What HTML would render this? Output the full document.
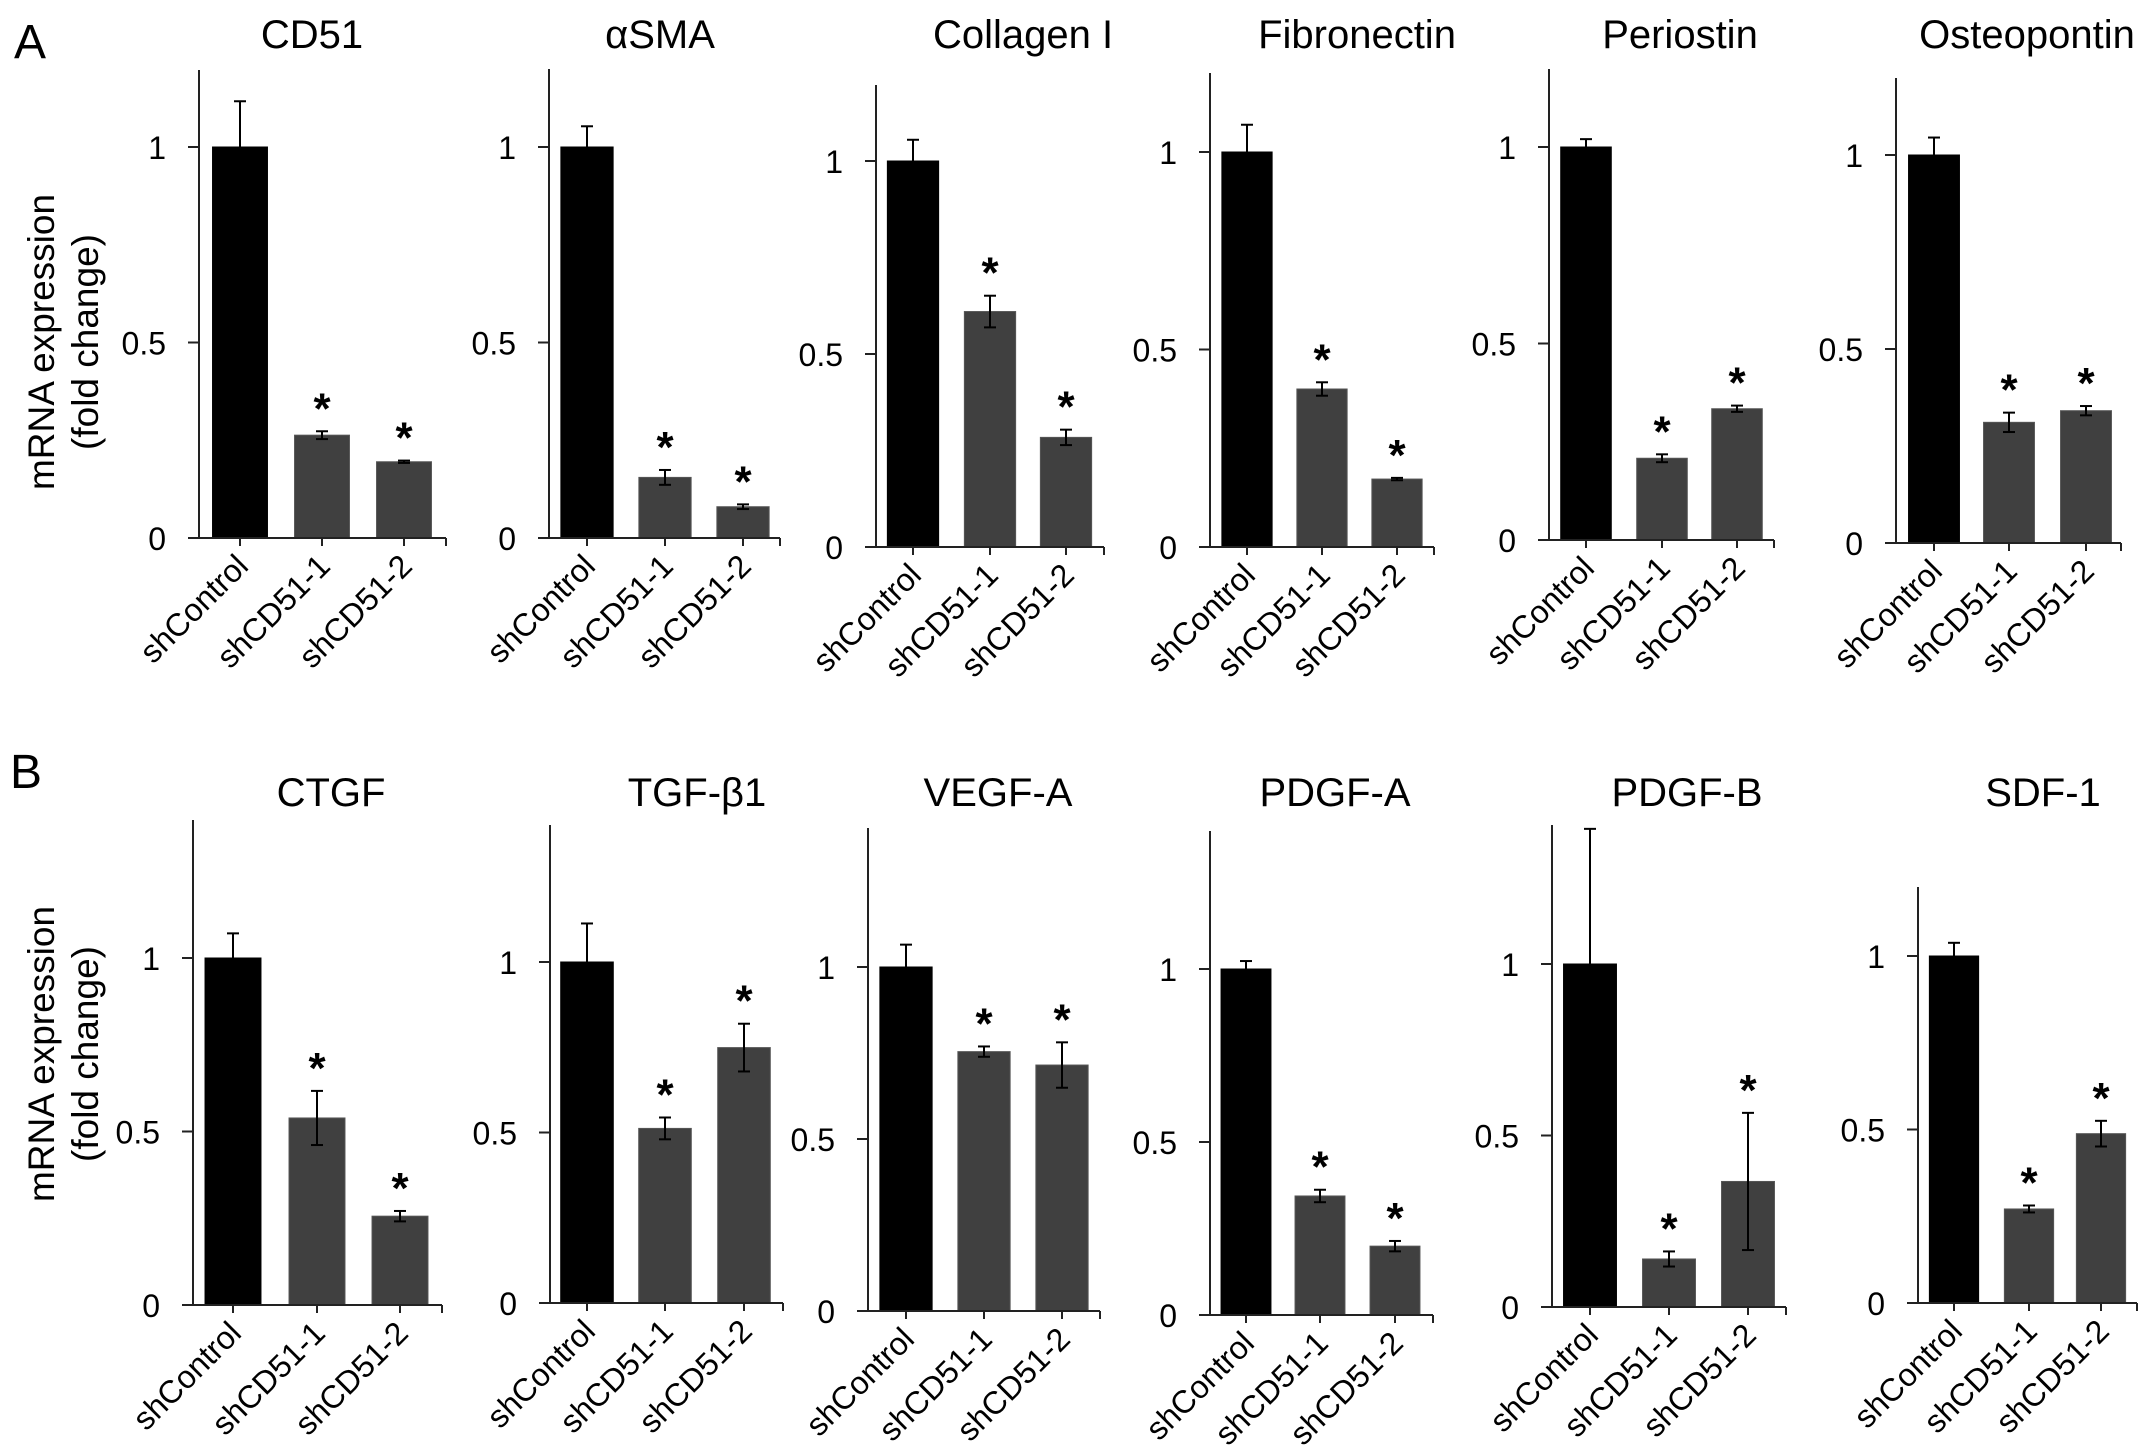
<!DOCTYPE html>
<html>
<head>
<meta charset="utf-8">
<style>
  html,body{margin:0;padding:0;background:#fff;}
  svg{display:block;font-family:"Liberation Sans",Arial,sans-serif;}
</style>
</head>
<body>
<svg id="fig" width="2150" height="1452" viewBox="0 0 2150 1452" xmlns="http://www.w3.org/2000/svg">
  <rect x="0" y="0" width="2150" height="1452" fill="#fff"/>
  <text x="14" y="58" font-size="48" fill="#000">A</text>
  <text x="10" y="788" font-size="48" fill="#000">B</text>
  <g transform="translate(54,342) rotate(-90)">
    <text x="0" y="0" font-size="37" text-anchor="middle">mRNA expression</text>
    <text x="0" y="44" font-size="37" text-anchor="middle">(fold change)</text>
  </g>
  <g transform="translate(54,1054) rotate(-90)">
    <text x="0" y="0" font-size="37" text-anchor="middle">mRNA expression</text>
    <text x="0" y="44" font-size="37" text-anchor="middle">(fold change)</text>
  </g>
  <g id="charts"></g>
</svg>
<script>
// ---- data ----
const titles = ["CD51","αSMA","Collagen I","Fibronectin","Periostin","Osteopontin",
                "CTGF","TGF-β1","VEGF-A","PDGF-A","PDGF-B","SDF-1"];
const categories = ["shControl","shCD51-1","shCD51-2"];
const yTicks = [0, 0.5, 1];
const yTickLabels = ["0","0.5","1"];
const controlValues = [1,1,1,1,1,1, 1,1,1,1,1,1];
const sh1Values = [0.263,0.155,0.61,0.40,0.208,0.311, 0.539,0.512,0.754,0.344,0.14,0.271];
const sh2Values = [0.195,0.08,0.284,0.172,0.334,0.341, 0.256,0.749,0.715,0.199,0.366,0.488];
const controlErr = [0.117,0.053,0.055,0.069,0.02,0.045, 0.071,0.113,0.065,0.023,0.394,0.038];
const sh1Err = [0.01,0.019,0.041,0.017,0.01,0.025, 0.078,0.032,0.015,0.018,0.022,0.01];
const sh2Err = [0.003,0.006,0.02,0.003,0.008,0.012, 0.015,0.07,0.066,0.015,0.2,0.037];
const significant = [false,true,true];

// ---- layout (pixels; not data) ----
const layout = [
  [199,70,538,147,240,322,404,446,312,48],
  [549,69,538,147,587,665,743,780,660,48],
  [876,85,547,161,913,990,1066,1104,1023,48],
  [1210,73,547,152,1247,1322,1397,1434,1357,48],
  [1549,69,540,147,1586,1662,1737,1774,1680,48],
  [1896,78,543,155,1934,2009,2086,2121,2027,48],
  [193,820,1305,958,233,317,400,442,331,806],
  [550,825,1303,962,587,665,744,783,697,806],
  [868,828,1311,967,906,984,1062,1100,998,806],
  [1210,831,1315,969,1246,1320,1395,1433,1335,806],
  [1552,825,1307,964,1590,1669,1748,1786,1687,806],
  [1918,887,1303,956,1954,2029,2101,2137,2043,806]
];

const NS = "http://www.w3.org/2000/svg";
const root = document.getElementById("charts");
function mk(tag, attrs, parent){
  const e = document.createElementNS(NS, tag);
  for (const k in attrs) e.setAttribute(k, attrs[k]);
  parent.appendChild(e);
  return e;
}

titles.forEach((title, p) => {
  const L = layout[p];
  const axisX=L[0], axisTop=L[1], baseY=L[2], y1=L[3], catX=[L[4],L[5],L[6]], axisRight=L[7];
  const yScale = v => baseY - v*(baseY - y1);
  const spacing = (catX[2]-catX[0])/2;
  const barW = spacing*0.67;

  const g = mk("g", {}, root);
  
  

  const t = mk("text", {x:L[8], y:L[9], "font-size":40, "text-anchor":"middle", fill:"#000"}, g);
  t.textContent = title;
  
  

  const vals = [controlValues[p], sh1Values[p], sh2Values[p]];
  const errs = [controlErr[p], sh1Err[p], sh2Err[p]];

  vals.forEach((v, i) => {
    const top = yScale(v);
    const r = mk("rect", {x:catX[i]-barW/2, y:top, width:barW, height:baseY-top,
      fill: i===0 ? "#000" : "#404040", stroke: i===0 ? "#000" : "#555", "stroke-width":1}, g);
    
    

    const hi = yScale(v + errs[i]);
    const lo = i===0 ? top : yScale(v - errs[i]);
    const eb = mk("g", {stroke:"#000", "stroke-width":2}, g);
    
    
    mk("line", {x1:catX[i], y1:hi, x2:catX[i], y2:lo}, eb);
    mk("line", {x1:catX[i]-6, y1:hi, x2:catX[i]+6, y2:hi}, eb);
    if (i>0) mk("line", {x1:catX[i]-6, y1:lo, x2:catX[i]+6, y2:lo}, eb);

    if (significant[i]) {
      const s = mk("text", {x:catX[i], y:hi-8, "font-size":44, "font-weight":"bold", "text-anchor":"middle", fill:"#000"}, g);
      s.textContent = "*";
      
      
    }
  });

  const ax = mk("g", {stroke:"#222", "stroke-width":2, fill:"none"}, g);
  
  
  mk("line", {x1:axisX, y1:axisTop, x2:axisX, y2:baseY}, ax);
  mk("line", {x1:axisX-11, y1:baseY, x2:axisRight, y2:baseY}, ax);
  mk("line", {x1:axisRight, y1:baseY, x2:axisRight, y2:baseY+8}, ax);
  catX.forEach(cx => mk("line", {x1:cx, y1:baseY, x2:cx, y2:baseY+8}, ax));

  yTicks.forEach((tv, k) => {
    const y = yScale(tv);
    mk("line", {x1:axisX-11, y1:y, x2:axisX, y2:y}, ax);
    const tl = mk("text", {x:axisX-33, y:y+12, "font-size":32, "text-anchor":"end", fill:"#000"}, g);
    tl.textContent = yTickLabels[k];
    
    
  });

  categories.forEach((c, i) => {
    const x = catX[i]+10, y = baseY+30;
    const cl = mk("text", {x:x, y:y, "font-size":32, "text-anchor":"end", fill:"#000",
      transform:"rotate(-45 " + x + " " + y + ")"}, g);
    cl.textContent = c;
    
    
  });
});
</script>
</body>
</html>
